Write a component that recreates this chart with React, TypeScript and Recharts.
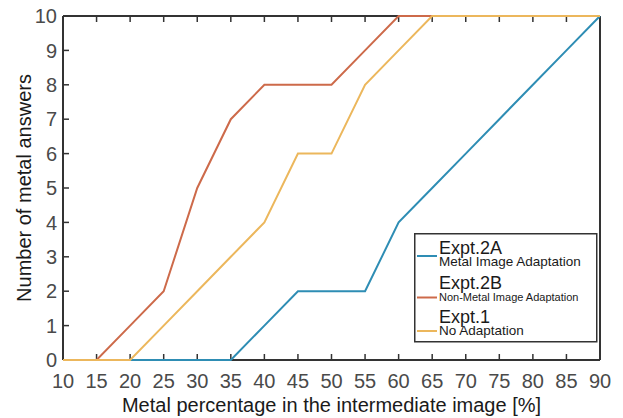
import React from 'react';
import { LineChart, Line, XAxis, YAxis, Legend, Label } from 'recharts';

const xValues = [10, 15, 20, 25, 30, 35, 40, 45, 50, 55, 60, 65, 70, 75, 80, 85, 90];
const expt2A = [0, 0, 0, 0, 0, 0, 1, 2, 2, 2, 4, 5, 6, 7, 8, 9, 10];
const expt2B = [0, 0, 1, 2, 5, 7, 8, 8, 8, 9, 10, 10, 10, 10, 10, 10, 10];
const expt1 = [0, 0, 0, 1, 2, 3, 4, 6, 6, 8, 9, 10, 10, 10, 10, 10, 10];
const yTicks = [0, 1, 2, 3, 4, 5, 6, 7, 8, 9, 10];

const seriesKeys = ['expt2A', 'expt2B', 'expt1'];
const seriesTitles = ['Expt.2A', 'Expt.2B', 'Expt.1'];
const seriesSubtitles = ['Metal Image Adaptation', 'Non-Metal Image Adaptation', 'No Adaptation'];
const seriesColors = ['#2e8db4', '#cd6a4a', '#ecb75c'];

const data = xValues.map((x, i) => ({ x, expt2A: expt2A[i], expt2B: expt2B[i], expt1: expt1[i] }));

const FONT = '"Liberation Sans", Arial, sans-serif';
const AXIS = '#333333';

const subtitleSizes = [13.5, 11, 13.5];
const swatchDy = [-10, -3, -4];

const renderLegend = () => (
  <svg width={184} height={110} style={{ display: 'block' }}>
    <rect x={0.75} y={0.75} width={182} height={108} fill="#ffffff" stroke={AXIS} strokeWidth={1.5} />
    {seriesKeys.map((k, i) => {
      const tb = 21 + 34.5 * i;
      const sb = tb + 12;
      return (
        <g key={k}>
          <line x1={3} x2={23} y1={sb + swatchDy[i]} y2={sb + swatchDy[i]} stroke={seriesColors[i]} strokeWidth={2} />
          <text x={25} y={tb} fontSize={18} fontFamily={FONT} fill="#1a1a1a">{seriesTitles[i]}</text>
          <text x={25} y={sb} fontSize={subtitleSizes[i]} fontFamily={FONT} fill="#1a1a1a">{seriesSubtitles[i]}</text>
        </g>
      );
    })}
  </svg>
);

const emptyTick = () => <g />;

export default function App() {
  return (
    <div style={{ position: 'absolute', left: 0, top: 0, width: 623, height: 418, background: '#fff' }}>
      <LineChart width={623} height={418} data={data} margin={{ top: 15, right: 22, left: 0, bottom: 0 }}>
        <XAxis
          dataKey="x"
          type="number"
          domain={[10, 90]}
          ticks={xValues}
          interval={0}
          height={58}
          tickSize={-6}
          tickMargin={20}
          axisLine={{ stroke: AXIS, strokeWidth: 2 }}
          tickLine={{ stroke: AXIS, strokeWidth: 1.5 }}
          tick={{ fill: '#4a4a4a', fontSize: 20, fontFamily: FONT }}
        >
          <Label
            value="Metal percentage in the intermediate image [%]"
            position="insideBottom"
            offset={6}
            style={{ fill: '#1a1a1a', fontSize: 20, fontFamily: FONT }}
          />
        </XAxis>
        <XAxis
          xAxisId="top"
          orientation="top"
          dataKey="x"
          type="number"
          domain={[10, 90]}
          ticks={xValues}
          interval={0}
          height={1}
          tickSize={-6}
          axisLine={{ stroke: AXIS, strokeWidth: 2 }}
          tickLine={{ stroke: AXIS, strokeWidth: 1.5 }}
          tick={emptyTick}
        />
        <YAxis
          type="number"
          domain={[0, 10]}
          ticks={yTicks}
          interval={0}
          width={63}
          tickSize={-6}
          tickMargin={12}
          axisLine={{ stroke: AXIS, strokeWidth: 2 }}
          tickLine={{ stroke: AXIS, strokeWidth: 1.5 }}
          tick={{ fill: '#4a4a4a', fontSize: 20, fontFamily: FONT }}
        >
          <Label
            content={(props: any) => {
              const vb = props.viewBox || { x: 0, y: 16, width: 63, height: 344 };
              const cx = vb.x + 31;
              const cy = vb.y + vb.height / 2;
              return (
                <text
                  x={cx}
                  y={cy}
                  transform={`rotate(-90 ${cx} ${cy})`}
                  textAnchor="middle"
                  fontSize={20}
                  fontFamily={FONT}
                  fill="#1a1a1a"
                >
                  Number of metal answers
                </text>
              );
            }}
          />
        </YAxis>
        <YAxis
          yAxisId="right"
          orientation="right"
          type="number"
          domain={[0, 10]}
          ticks={yTicks}
          interval={0}
          width={1}
          tickSize={-6}
          axisLine={{ stroke: AXIS, strokeWidth: 2 }}
          tickLine={{ stroke: AXIS, strokeWidth: 1.5 }}
          tick={emptyTick}
        />
        {seriesKeys.map((k, i) => (
          <Line
            key={k}
            type="linear"
            dataKey={k}
            name={seriesTitles[i]}
            stroke={seriesColors[i]}
            strokeWidth={2}
            dot={false}
            activeDot={false}
            isAnimationActive={false}
            zIndex={600 + i}
          />
        ))}
        <Legend
          layout="horizontal"
          verticalAlign="middle"
          align="center"
          content={renderLegend}
          wrapperStyle={{ left: 414, top: 233, width: 184, height: 110 }}
        />
      </LineChart>
    </div>
  );
}
